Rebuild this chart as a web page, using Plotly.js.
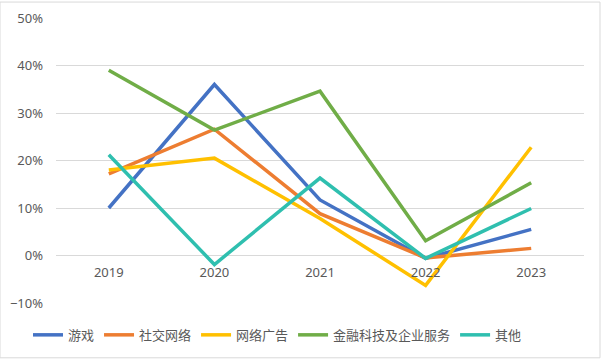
<!DOCTYPE html>
<html><head><meta charset="utf-8">
<script src="https://cdn.plot.ly/plotly-3.0.1.min.js"></script>
<style>html,body{margin:0;padding:0;background:#fff}#c{width:602px;height:361px}</style>
</head><body><div id="c"></div>
<script>
const years = ['2019','2020','2021','2022','2023'];
const games = [0.10, 0.36, 0.117, -0.006, 0.055];
const social = [0.172, 0.266, 0.088, -0.005, 0.015];
const ads = [0.18, 0.205, 0.078, -0.063, 0.228];
const fintech = [0.39, 0.264, 0.346, 0.031, 0.153];
const others = [0.212, -0.019, 0.163, -0.006, 0.099];
const names = ['游戏','社交网络','网络广告','金融科技及企业服务','其他'];
const colors = ['#4472C4','#ED7D31','#FFC000','#70AD47','#2FBFAF'];
const yTicks = [-0.1,0,0.1,0.2,0.3,0.4,0.5];
const series = [games, social, ads, fintech, others];
const traces = series.map((s,i)=>({
  x: years, y: s, name: names[i], type:'scatter', mode:'lines',
  line:{color:colors[i], width:3.5}
}));
const layout = {
  width:602, height:361,
  margin:{l:56, r:18, t:18, b:57},
  paper_bgcolor:'#fff', plot_bgcolor:'#fff',
  font:{family:'"Noto Sans", "Noto Sans CJK SC", sans-serif', color:'#595959', size:12},
  showlegend:true,
  legend:{orientation:'h', x:-0.053, xanchor:'left', y:-0.108, yanchor:'middle',
    font:{family:'"Noto Sans CJK SC", sans-serif', size:13, color:'#595959'},
    itemwidth:30, tracegroupgap:0},
  xaxis:{type:'category', range:[-0.5,4.5], showgrid:false, zeroline:false,
    showline:false, ticks:'', anchor:'free', position:1/6, ticklabelstandoff:7,
    tickfont:{size:13, color:'#595959'}, fixedrange:true},
  yaxis:{range:[-0.1,0.5], tickvals:yTicks, tickformat:'.0%', showgrid:true,
    gridcolor:'#d9d9d9', gridwidth:1, zeroline:false, showline:false,
    ticks:'', ticklabelstandoff:12, tickfont:{size:13, color:'#595959'}},
  shapes:[{type:'rect', xref:'paper', yref:'paper', x0:-56/528, x1:1+16/528, y0:-55/286, y1:1+16/286,
    line:{color:'#d9d9d9', width:1}, fillcolor:'rgba(0,0,0,0)', layer:'below'}]
};
Plotly.newPlot('c', traces, layout, {displayModeBar:false, staticPlot:true});
</script></body></html>
